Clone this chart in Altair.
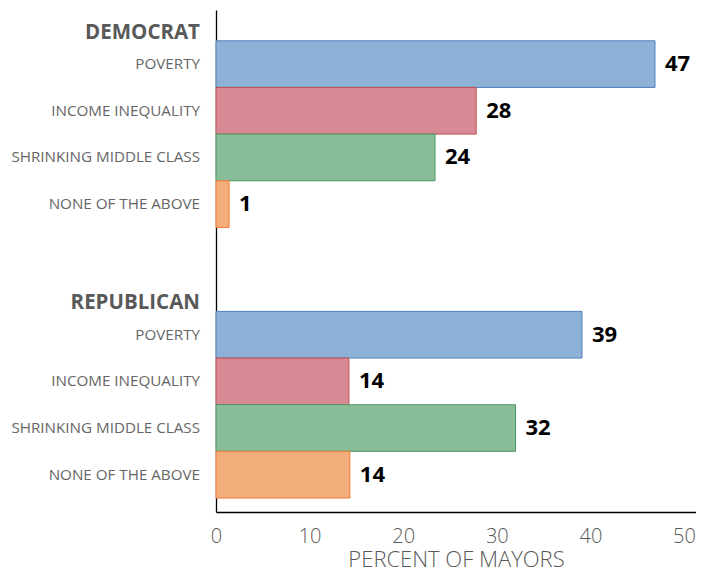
import altair as alt
import pandas as pd

# ---- data ----
groups = ["DEMOCRAT", "REPUBLICAN"]
categories = ["POVERTY", "INCOME INEQUALITY", "SHRINKING MIDDLE CLASS", "NONE OF THE ABOVE"]
democrat_values = [46.9, 27.8, 23.4, 1.4]
republican_values = [39.1, 14.2, 32.0, 14.3]
democrat_labels = ["47", "28", "24", "1"]
republican_labels = ["39", "14", "32", "14"]
x_ticks = [0, 10, 20, 30, 40, 50]

# ---- styling / layout ----
fill_colors = ["#8EB1D7", "#D78A94", "#89BC99", "#F4AE7C"]
stroke_colors = ["#4F81BD", "#C0504D", "#4A9A5E", "#F37A35"]
group_offsets = [0.66, 6.46]   # row units from plot top
y_extent = 10.76
FONT = "Open Sans"

rows = []
for g, offset, vals, labs in [
    (groups[0], group_offsets[0], democrat_values, democrat_labels),
    (groups[1], group_offsets[1], republican_values, republican_labels),
]:
    for i, (c, v, l) in enumerate(zip(categories, vals, labs)):
        rows.append({
            "group": g, "category": c, "value": v, "label": l,
            "top": offset + i, "bottom": offset + i + 1, "center": offset + i + 0.5,
        })
df = pd.DataFrame(rows)
hdr = pd.DataFrame({"group": groups, "y": [o - 0.17 for o in group_offsets]})

xscale = alt.Scale(domain=[0, 51.28], nice=False, zero=True)
yscale = alt.Scale(domain=[0, y_extent], reverse=True, nice=False, zero=False)

bars = alt.Chart(df).mark_bar(strokeWidth=1).encode(
    x=alt.X("value:Q", scale=xscale,
            axis=alt.Axis(values=x_ticks, title="PERCENT OF MAYORS", grid=False, ticks=False,
                          domainColor="#000000", domainWidth=1.3,
                          labelFontSize=20, labelColor="#595959", labelFont=FONT,
                          labelPadding=14, labelFontWeight=300, labelFlush=False,
                          titleFontSize=22, titleColor="#595959", titleFont=FONT,
                          titleFontWeight=300, titlePadding=3)),
    x2=alt.value(0),
    y=alt.Y("top:Q", scale=yscale,
            axis=alt.Axis(labels=False, ticks=False, grid=False, title=None,
                          domainColor="#000000", domainWidth=1.3)),
    y2="bottom:Q",
    color=alt.Color("category:N", scale=alt.Scale(domain=categories, range=fill_colors), legend=None),
    stroke=alt.Stroke("category:N", scale=alt.Scale(domain=categories, range=stroke_colors), legend=None),
)

values_text = alt.Chart(df).mark_text(
    align="left", baseline="middle", dx=10, fontSize=22, fontWeight="bold", font=FONT, color="#000000"
).encode(
    x=alt.X("value:Q", scale=xscale),
    y=alt.Y("center:Q", scale=yscale),
    text="label:N",
)

cat_text = alt.Chart(df).mark_text(
    align="right", baseline="middle", fontSize=15.2, font=FONT, color="#666666"
).encode(
    x=alt.value(-16),
    y=alt.Y("center:Q", scale=yscale),
    text="category:N",
)

hdr_text = alt.Chart(hdr).mark_text(
    align="right", baseline="middle", fontSize=20.5, fontWeight="bold", font=FONT, color="#595959"
).encode(
    x=alt.value(-16),
    y=alt.Y("y:Q", scale=yscale),
    text="group:N",
)

chart = alt.layer(bars, values_text, cat_text, hdr_text).properties(
    width=480, height=502,
    autosize=alt.AutoSizeParams(type="none"),
    padding={"left": 208, "top": 2, "right": 0, "bottom": 61},
    background="#ffffff",
).configure_view(stroke=None)

chart.save("out.html", embed_options={"renderer": "svg", "actions": False})
